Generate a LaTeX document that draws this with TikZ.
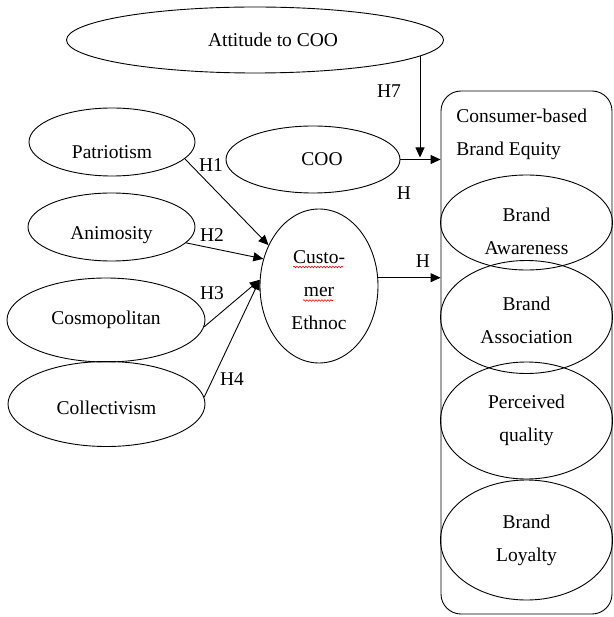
\documentclass[tikz,border=0pt]{standalone}
\usepackage{fontspec}
\setmainfont{Liberation Serif}
\usetikzlibrary{arrows.meta, shapes.geometric, decorations.pathmorphing}

\begin{document}
\begin{tikzpicture}[x=1pt, y=-1pt, >={Triangle[length=10pt, width=9pt]}, line width=0.9pt,
    every node/.style={font=\fontsize{19.5}{33}\selectfont},
    construct/.style={ellipse, draw, inner sep=0pt, align=center},
    lbl/.style={align=center, inner sep=0pt},
    hyp/.style={inner sep=0pt},
    spell/.style={red, line width=0.6pt, decorate, decoration={snake, amplitude=0.8pt, segment length=3pt}}]
      \useasboundingbox (0,0) rectangle (613,617);
      \node[construct, minimum width=377, minimum height=66, label={[lbl, xshift=18pt]center:Attitude to COO}] (att) at (255,40) {};
      \node[construct, minimum width=166, minimum height=68, label={[lbl, yshift=-10pt]center:Patriotism}] (pat) at (112,142) {};
      \node[construct, minimum width=174, minimum height=67, label={[lbl, xshift=9pt]center:COO}] (coo) at (313,159.5) {};
      \node[construct, minimum width=167, minimum height=68, label={[lbl, yshift=-8pt]center:Animosity}] (ani) at (111.5,227) {};
      \node[construct, minimum width=198, minimum height=84] (cos) at (106,320) {Cosmopolitan};
      \node[construct, minimum width=197, minimum height=85, label={[lbl, yshift=-4pt]center:Collectivism}] (col) at (106.5,404) {};
      \node[construct, minimum width=118, minimum height=154, label={[lbl, yshift=-4.5pt]center:Custo-\\mer\\Ethnoc}] (cust) at (319,286) {};
      \node[draw, rounded corners=20pt, minimum width=171, minimum height=523, inner sep=0pt] (cbbe) at (526.5,352.5) {};
      \node[lbl, anchor=west, align=left] (title) at (456,134) {Consumer-based\\Brand Equity};
      \node[construct, minimum width=172, minimum height=95, label={[lbl, yshift=-9pt]center:Brand\\Awareness}] (aw) at (526.5,222.5) {};
      \node[construct, minimum width=172, minimum height=113, label={[lbl, yshift=-3.5pt]center:Brand\\Association}] (as) at (526.5,317) {};
      \node[construct, minimum width=172, minimum height=117] (pq) at (526.5,420.5) {Perceived\\quality};
      \node[construct, minimum width=172, minimum height=120] (loy) at (526.5,540) {Brand\\Loyalty};
      \coordinate (h7top) at (420,56);
      \draw[->] (h7top) -- ([yshift=2pt]h7top |- coo.east);
      \draw[->] (coo.east) -- (coo.east -| cbbe.west);
      \draw[->] (cust.8) -- (cust.8 -| cbbe.west);
      \draw[->] (pat.-13) -- (cust.141);
      \draw[->] (ani.-12) -- (cust.154);
      \draw[->] (cos.-4) -- (cust.174);
      \draw[->] (col.4) -- (cust.174);
      \node[hyp] (h7) at (389,91) {H7};
      \node[hyp] (h1) at (211,165) {H1};
      \node[hyp] (h2) at (212,235) {H2};
      \node[hyp] (h3) at (212,293) {H3};
      \node[hyp] (h4) at (232,379) {H4};
      \node[hyp] (h5) at (404,193) {H};
      \node[hyp] (h6) at (423,261) {H};
      \draw[spell] (293,267) -- (343,267);
      \draw[spell] (303,300.5) -- (333,300.5);
    \end{tikzpicture}
\end{document}
